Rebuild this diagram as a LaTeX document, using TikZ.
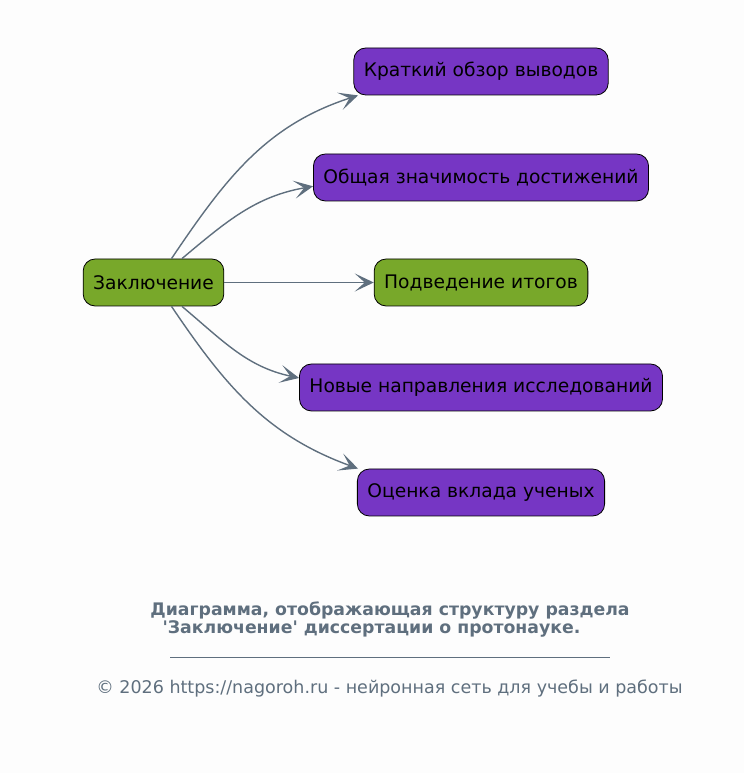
\documentclass[tikz,border=0pt]{standalone}
\usepackage{fontspec}
\setmainfont{DejaVu Sans}
\newfontfamily\capfont{DejaVu Sans}
\usetikzlibrary{arrows.meta}
\definecolor{violet}{HTML}{7636C4}
\definecolor{grass}{HTML}{78A82A}
\definecolor{slate}{HTML}{5F6F7E}
\definecolor{paper}{HTML}{FDFDFD}

\begin{document}
\begin{tikzpicture}[x=1pt, y=1pt,
    box/.style={draw=black, line width=0.8pt, rounded corners=12pt, minimum height=47pt,
        inner xsep=10pt, font=\fontsize{18.67}{22}\selectfont},
    link/.style={draw=slate, line width=1.4pt, -{Stealth[length=19pt, width=18pt, inset=10pt]}}]
    \fill[paper] (0,0) rectangle (744,773);
    \useasboundingbox (0,0) rectangle (744,773);

    % root and its branches
    \node[box, fill=grass] (root) at (153.5,490.5) {Заключение};
    \node[box, fill=violet] (brief) at (481,701.5) {Краткий обзор выводов};
    \node[box, fill=violet] (worth) at (481,595.5) {Общая значимость достижений};
    \node[box, fill=grass] (sum) at (481,490.5) {Подведение итогов};
    \node[box, fill=violet] (ahead) at (481,385.5) {Новые направления исследований};
    \node[box, fill=violet] (merit) at (481,280.5) {Оценка вклада ученых};

    \draw[link] (root.53) to[out=56, in=198] (brief.191);
    \draw[link] (root.40) to[out=40, in=190] (worth.183);
    \draw[link] (root) -- (sum);
    \draw[link] (root.-40) to[out=-40, in=168] (ahead.177);
    \draw[link] (root.-53) to[out=-56, in=160] (merit.169);

    % caption and footer
    \node[font=\capfont\fontsize{17.3}{20}\selectfont\bfseries, text=slate] (cap1) at (390,162) {Диаграмма, отображающая структуру раздела};
    \node[font=\capfont\fontsize{17.3}{20}\selectfont\bfseries, text=slate] (cap2) at (371.5,144) {'Заключение' диссертации о протонауке.};
    \coordinate (ruleL) at (170,116);
    \coordinate (ruleR) at (610,116);
    \draw[slate, line width=0.8pt] (ruleL) -- (ruleR);
    \node[font=\fontsize{17.5}{20}\selectfont, text=slate] (foot) at (389.5,84) {© 2026 https://nagoroh.ru - нейронная сеть для учебы и работы};
\end{tikzpicture}
\end{document}
